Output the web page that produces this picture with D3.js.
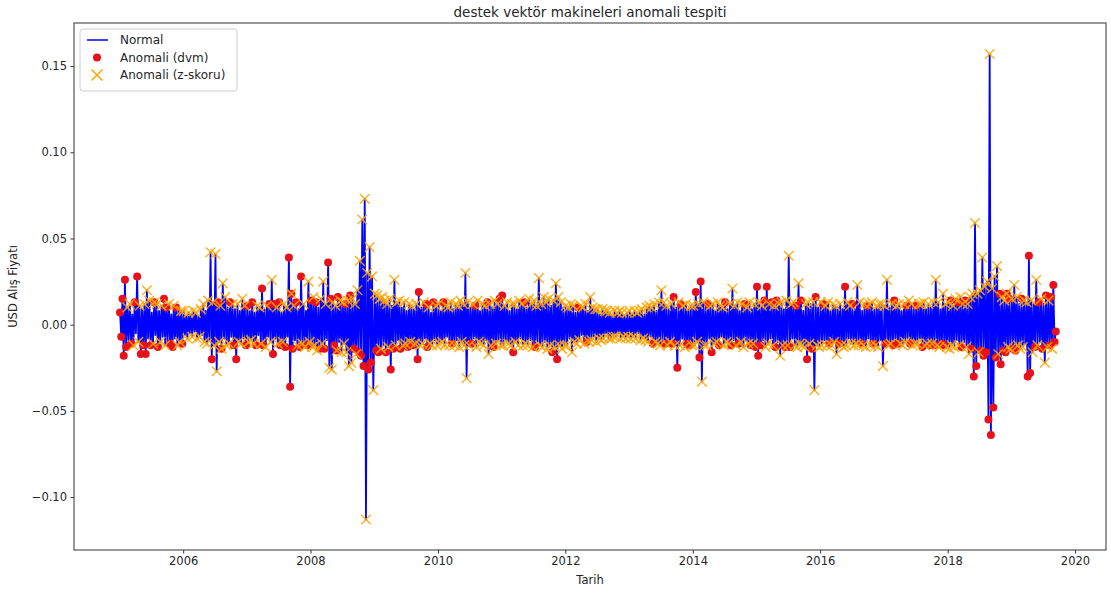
<!DOCTYPE html>
<html>
<head>
<meta charset="utf-8">
<script src="https://cdnjs.cloudflare.com/ajax/libs/d3/7.8.5/d3.min.js"></script>
<style>
  body { margin: 0; background: #fff; }
  text { font-family: "DejaVu Sans", sans-serif; fill: #262626; }
</style>
</head>
<body>
<div id="chart"></div>
<script>
// weekly USD returns, one row per year (estimated off the plot)
var years = [2005, 2006, 2007, 2008, 2009, 2010, 2011, 2012, 2013, 2014, 2015, 2016, 2017, 2018, 2019];

var returns = [
  [0.007,-0.007,0.015,-0.018,0.026,-0.013,0.010,-0.009,0.012,-0.011, 0.006,-0.012,0.013,-0.005,0.028,-0.010,0.011,-0.017,0.009,-0.012,
   0.012,-0.017,0.020,-0.008,0.014,-0.012,0.007,-0.011,0.013,-0.006, 0.012,-0.013,0.008,-0.010,0.011,-0.007,0.015,-0.012,0.010,-0.009,
   0.012,-0.011,0.006,-0.013,0.011,-0.008,0.010,-0.012,0.009,-0.010, 0.008,-0.011],
  [0.008,-0.006,0.005,-0.008,0.007,-0.005,0.006,-0.007,0.008,-0.004, 0.007,-0.008,0.005,-0.007,0.009,-0.006,0.012,-0.010,0.008,-0.011,
   0.014,-0.009,0.042,-0.020,0.013,-0.012,0.041,-0.027,0.013,-0.010, 0.011,-0.014,0.024,-0.008,0.016,-0.012,0.010,-0.011,0.013,-0.007,
   0.012,-0.012,0.009,-0.020,0.012,-0.010,0.008,-0.011,0.015,-0.008, 0.011,-0.012],
  [0.011,-0.010,0.008,-0.009,0.013,-0.011,0.007,-0.012,0.011,-0.006, 0.010,-0.011,0.021,-0.012,0.009,-0.013,0.011,-0.007,0.012,-0.010,
   0.026,-0.017,0.012,-0.008,0.010,-0.011,0.013,-0.012,0.007,-0.010, 0.012,-0.013,0.010,-0.007,0.039,-0.036,0.018,-0.014,0.011,-0.009,
   0.013,-0.012,0.009,-0.013,0.028,-0.011,0.012,-0.013,0.008,-0.012, 0.025,-0.010],
  [0.014,-0.013,0.016,-0.012,0.013,-0.015,0.010,-0.014,0.015,-0.011, 0.025,-0.014,0.012,-0.009,0.036,-0.025,0.015,-0.026,0.013,-0.012,
   0.011,-0.015,0.016,-0.010,0.014,-0.016,0.013,-0.011,0.012,-0.016, 0.014,-0.024,0.017,-0.022,0.015,-0.014,0.012,-0.017,0.020,-0.016,
   0.037,-0.018,0.061,-0.024,0.073,-0.113,0.030,-0.026,0.045,-0.022, 0.028,-0.038],
  [0.018,-0.015,0.017,-0.016,0.015,-0.014,0.016,-0.012,0.014,-0.016, 0.012,-0.013,0.015,-0.026,0.011,-0.014,0.026,-0.012,0.013,-0.009,
   0.014,-0.014,0.010,-0.012,0.013,-0.011,0.008,-0.013,0.012,-0.010, 0.011,-0.012,0.009,-0.011,0.012,-0.020,0.019,-0.012,0.010,-0.011,
   0.013,-0.008,0.012,-0.013,0.010,-0.011,0.007,-0.012,0.013,-0.009, 0.011,-0.012],
  [0.012,-0.011,0.008,-0.010,0.013,-0.012,0.011,-0.007,0.010,-0.012, 0.013,-0.011,0.009,-0.012,0.012,-0.009,0.011,-0.013,0.014,-0.010,
   0.012,-0.012,0.030,-0.031,0.013,-0.012,0.010,-0.011,0.012,-0.008, 0.011,-0.013,0.014,-0.010,0.008,-0.011,0.012,-0.012,0.011,-0.009,
   0.013,-0.017,0.012,-0.012,0.010,-0.013,0.014,-0.011,0.012,-0.009, 0.015,-0.012],
  [0.017,-0.012,0.011,-0.009,0.013,-0.011,0.008,-0.012,0.012,-0.016, 0.012,-0.010,0.009,-0.012,0.014,-0.008,0.012,-0.012,0.013,-0.011,
   0.010,-0.012,0.015,-0.009,0.012,-0.013,0.014,-0.013,0.011,-0.010, 0.027,-0.012,0.012,-0.013,0.016,-0.010,0.013,-0.014,0.015,-0.012,
   0.011,-0.016,0.014,-0.013,0.024,-0.020,0.016,-0.012,0.013,-0.014, 0.010,-0.012],
  [0.011,-0.012,0.010,-0.008,0.012,-0.016,0.011,-0.010,0.007,-0.011, 0.010,-0.009,0.011,-0.006,0.010,-0.011,0.012,-0.010,0.008,-0.010,
   0.016,-0.009,0.010,-0.007,0.009,-0.010,0.009,-0.008,0.006,-0.009, 0.009,-0.008,0.008,-0.005,0.008,-0.008,0.007,-0.008,0.005,-0.007,
   0.008,-0.007,0.007,-0.005,0.008,-0.008,0.007,-0.007,0.005,-0.008, 0.007,-0.007],
  [0.008,-0.008,0.006,-0.007,0.008,-0.008,0.007,-0.005,0.008,-0.009, 0.009,-0.008,0.006,-0.009,0.010,-0.010,0.011,-0.007,0.010,-0.011,
   0.012,-0.010,0.008,-0.011,0.013,-0.012,0.020,-0.009,0.013,-0.011, 0.011,-0.012,0.009,-0.010,0.012,-0.011,0.016,-0.012,0.010,-0.025,
   0.013,-0.012,0.012,-0.008,0.011,-0.013,0.012,-0.011,0.009,-0.012, 0.011,-0.012],
  [0.011,-0.012,0.019,-0.010,0.012,-0.019,0.025,-0.033,0.013,-0.012, 0.010,-0.012,0.012,-0.008,0.011,-0.016,0.012,-0.011,0.008,-0.010,
   0.013,-0.012,0.011,-0.007,0.010,-0.012,0.013,-0.010,0.009,-0.011, 0.012,-0.012,0.021,-0.009,0.011,-0.012,0.013,-0.011,0.008,-0.010,
   0.012,-0.013,0.012,-0.009,0.010,-0.011,0.013,-0.012,0.009,-0.011, 0.012,-0.013],
  [0.022,-0.018,0.013,-0.012,0.011,-0.009,0.014,-0.013,0.022,-0.011, 0.012,-0.008,0.013,-0.012,0.011,-0.013,0.014,-0.010,0.012,-0.018,
   0.013,-0.012,0.009,-0.013,0.014,-0.012,0.040,-0.013,0.012,-0.008, 0.013,-0.012,0.011,-0.013,0.024,-0.011,0.014,-0.012,0.008,-0.013,
   0.012,-0.020,0.013,-0.011,0.012,-0.014,0.013,-0.038,0.016,-0.012, 0.010,-0.013],
  [0.013,-0.012,0.012,-0.009,0.011,-0.012,0.013,-0.011,0.008,-0.012, 0.012,-0.010,0.011,-0.017,0.010,-0.011,0.012,-0.012,0.009,-0.013,
   0.022,-0.012,0.013,-0.008,0.011,-0.011,0.012,-0.012,0.009,-0.011, 0.023,-0.012,0.013,-0.011,0.008,-0.012,0.012,-0.013,0.011,-0.008,
   0.012,-0.012,0.013,-0.011,0.009,-0.012,0.011,-0.013,0.012,-0.009, 0.012,-0.024],
  [0.011,-0.011,0.026,-0.012,0.010,-0.011,0.012,-0.012,0.014,-0.009, 0.011,-0.011,0.012,-0.011,0.008,-0.012,0.012,-0.010,0.011,-0.008,
   0.014,-0.011,0.012,-0.012,0.009,-0.011,0.011,-0.011,0.012,-0.008, 0.012,-0.013,0.013,-0.012,0.009,-0.011,0.012,-0.012,0.010,-0.011,
   0.013,-0.012,0.026,-0.012,0.013,-0.013,0.009,-0.011,0.018,-0.012, 0.012,-0.013],
  [0.013,-0.014,0.014,-0.012,0.011,-0.013,0.015,-0.009,0.013,-0.012, 0.016,-0.013,0.012,-0.010,0.014,-0.013,0.012,-0.017,0.016,-0.014,
   0.018,-0.030,0.059,-0.024,0.018,-0.016,0.020,-0.015,0.039,-0.018, 0.022,-0.016,0.025,-0.055,0.157,-0.064,0.021,-0.048,0.028,-0.019,
   0.034,-0.017,0.018,-0.023,0.016,-0.015,0.014,-0.016,0.018,-0.013, 0.015,-0.014],
  [0.015,-0.014,0.023,-0.015,0.016,-0.012,0.012,-0.014,0.015,-0.013, 0.014,-0.011,0.013,-0.030,0.040,-0.028,0.014,-0.016,0.012,-0.013,
   0.026,-0.012,0.013,-0.010,0.015,-0.014,0.012,-0.022,0.017,-0.013, 0.014,-0.012,0.016,-0.014,0.023,-0.010,-0.004]
];

// r = dvm anomaly, x = z-score anomaly, b = both, . = normal
var flags = [
  "rrrrrrx.xr" + ".xr.rxxr.r" + "xrx.xr.xb." + "xr.xx.rxr." + "xr.rx.rx.x" + "xr",
  "x..xx..xx." + "xx.xx.xx.x" + "x.xrxxxxrx" + "xbx.xx.xr." + "xr.rxx.xx." + "xr",
  "rx.xrx.rx." + "xxrr.xx.rx" + "xrr.xxrr.x" + "xrx.rrbrx." + "rx.rrxxx.r" + "xx",
  "rxxxrx.rxx" + "xrx.rxrxxr" + "xbr.xxxxrx" + "xxrxxrxxxr" + "xrxrxxxrxr" + "xx",
  "xrxrxxx.xr" + "xxxr.rxxx." + "xr.xxx.rxx" + "xr.xxrrx.x" + "x.rrxx.xr." + "xx",
  "xx.xrxx.xx" + "xr.xx.xxxx" + "xxxxxx.rx." + "rxxx.xxxx." + "rxxx.rxxx." + "rx",
  "rxx.xx.xxr" + "xx.xx.xxrx" + ".xx.xxxrx." + "xxxxx.xxxx" + ".rxxxrxxxx" + ".x",
  "xxx.xxxx.x" + "rxx.xxxr.x" + "xxx.xxxx.x" + "xxx.xxxx.x" + "xxx.xxxx.x" + "xx",
  "xx.xxxx.xx" + "xx.xxxx.xr" + "xx.xxxx.xr" + "xx.xxrrx.r" + "xxr.xxxr.r" + "xx",
  "xxrxxrrxxx" + ".xr.xrxx.x" + "xrx.xxrx.x" + "xrx.xxxr.x" + "xxr.xxxr.x" + "xr",
  "rrxrx.rxrx" + "x.rxxrr.xx" + "xx.rxxxrx." + "xxrxxxrx.x" + "xrxx.rxxrx" + ".x",
  "xxr.xxxr.x" + "xxxx.rxx.x" + "rxx.xxrx.x" + "xxxr.xxxr." + "xxxr.xxxx." + "xx",
  "xrxx.xxrr." + "xrxx.xxxr." + "xrxx.xrxx." + "xrxx.xxr.x" + "xrxxxx.rxr" + "xx",
  "xxrxxxx.rx" + "xrx.rxxxxr" + "xrxrxxxrxr" + "xrxrxrxrxr" + "xxrrxrxrbx" + "rx",
  "xrxrxx.xrx" + "x.xrrrxx.r" + "xxr.xr.xrx" + "xrrxrrr"
];

var xTickYears = [2006, 2008, 2010, 2012, 2014, 2016, 2018, 2020];
var yTicks = [0.15, 0.10, 0.05, 0.00, -0.05, -0.10];
var legendLabels = ["Normal", "Anomali (dvm)", "Anomali (z-skoru)"];

var width = 1111, height = 594;
var margin = {top: 23, right: 5, bottom: 44, left: 74};
var plotW = width - margin.left - margin.right;
var plotH = height - margin.top - margin.bottom;

var points = [];
years.forEach(function(yr, r) {
  returns[r].forEach(function(v, j) {
    points.push({
      date: d3.timeDay.offset(new Date(yr, 0, 1), 3 + j * 7),
      value: v,
      flag: flags[r][j]
    });
  });
});

var x = d3.scaleTime()
    .domain([new Date(2004, 3, 15), new Date(2020, 5, 27)])
    .range([0, plotW]);
var y = d3.scaleLinear()
    .domain([-0.1307, 0.175])
    .range([plotH, 0]);

var svg = d3.select("#chart").append("svg")
    .attr("width", width)
    .attr("height", height);

svg.append("text")
    .attr("x", margin.left + plotW / 2)
    .attr("y", 17)
    .attr("text-anchor", "middle")
    .attr("font-size", "13.5px")
    .text("destek vektör makineleri anomali tespiti");

var g = svg.append("g")
    .attr("transform", "translate(" + margin.left + "," + margin.top + ")");

// axes
var xAxis = d3.axisBottom(x)
    .tickValues(xTickYears.map(function(d) { return new Date(d, 0, 1); }))
    .tickFormat(d3.timeFormat("%Y"))
    .tickSize(3.5).tickPadding(3.5);
var yAxis = d3.axisLeft(y)
    .tickValues(yTicks)
    .tickFormat(d3.format(".2f"))
    .tickSize(3.5).tickPadding(3.5);

var gx = g.append("g").attr("transform", "translate(0," + plotH + ")").call(xAxis);
var gy = g.append("g").call(yAxis);
[gx, gy].forEach(function(a) {
  a.select(".domain").remove();
  a.selectAll(".tick line").attr("stroke", "#333");
  a.selectAll(".tick text").attr("font-size", "11.5px").attr("font-family", "DejaVu Sans").attr("fill", "#262626");
});

svg.append("text")
    .attr("x", margin.left + plotW / 2)
    .attr("y", 584)
    .attr("text-anchor", "middle")
    .attr("font-size", "11.5px")
    .text("Tarih");

svg.append("text")
    .attr("transform", "translate(17," + (margin.top + plotH / 2) + ") rotate(-90)")
    .attr("text-anchor", "middle")
    .attr("font-size", "11.5px")
    .text("USD Alış Fiyatı");

// series
var line = d3.line()
    .x(function(d) { return x(d.date); })
    .y(function(d) { return y(d.value); });

g.append("path")
    .datum(points)
    .attr("fill", "none")
    .attr("stroke", "blue")
    .attr("stroke-width", 1.8)
    .attr("stroke-linejoin", "round")
    .attr("d", line);

g.selectAll(".dvm")
    .data(points.filter(function(d) { return d.flag == "r" || d.flag == "b"; }))
    .enter().append("circle")
    .attr("class", "dvm")
    .attr("cx", function(d) { return x(d.date); })
    .attr("cy", function(d) { return y(d.value); })
    .attr("r", 4)
    .attr("fill", "#e8101a");

var cross = "M-4.8,-4.8L4.8,4.8M-4.8,4.8L4.8,-4.8";
g.selectAll(".zs")
    .data(points.filter(function(d) { return d.flag == "x" || d.flag == "b"; }))
    .enter().append("path")
    .attr("class", "zs")
    .attr("transform", function(d) { return "translate(" + x(d.date) + "," + y(d.value) + ")"; })
    .attr("d", cross)
    .attr("stroke", "orange")
    .attr("stroke-opacity", 0.85)
    .attr("stroke-width", 1.5)
    .attr("fill", "none");

// frame
g.append("rect")
    .attr("width", plotW)
    .attr("height", plotH)
    .attr("fill", "none")
    .attr("stroke", "#333")
    .attr("stroke-width", 1);

// legend
var legend = g.append("g").attr("transform", "translate(6,6)");
legend.append("rect")
    .attr("width", 157).attr("height", 62)
    .attr("rx", 3)
    .attr("fill", "#fff").attr("fill-opacity", 0.8)
    .attr("stroke", "#ccc");

var items = legend.selectAll(".item")
    .data(legendLabels)
    .enter().append("g")
    .attr("transform", function(d, i) { return "translate(0," + (11 + i * 17.5) + ")"; });

items.append("text")
    .attr("x", 40).attr("dy", "0.35em")
    .attr("font-size", "12px")
    .text(function(d) { return d; });

items.filter(function(d, i) { return i == 0; }).append("line")
    .attr("x1", 7).attr("x2", 28)
    .attr("stroke", "blue").attr("stroke-width", 1.5);
items.filter(function(d, i) { return i == 1; }).append("circle")
    .attr("cx", 17).attr("r", 4).attr("fill", "#e8101a");
items.filter(function(d, i) { return i == 2; }).append("path")
    .attr("transform", "translate(17,0)")
    .attr("d", "M-5.5,-5.5L5.5,5.5M-5.5,5.5L5.5,-5.5")
    .attr("stroke", "orange").attr("stroke-width", 1.5);
</script>
</body>
</html>
